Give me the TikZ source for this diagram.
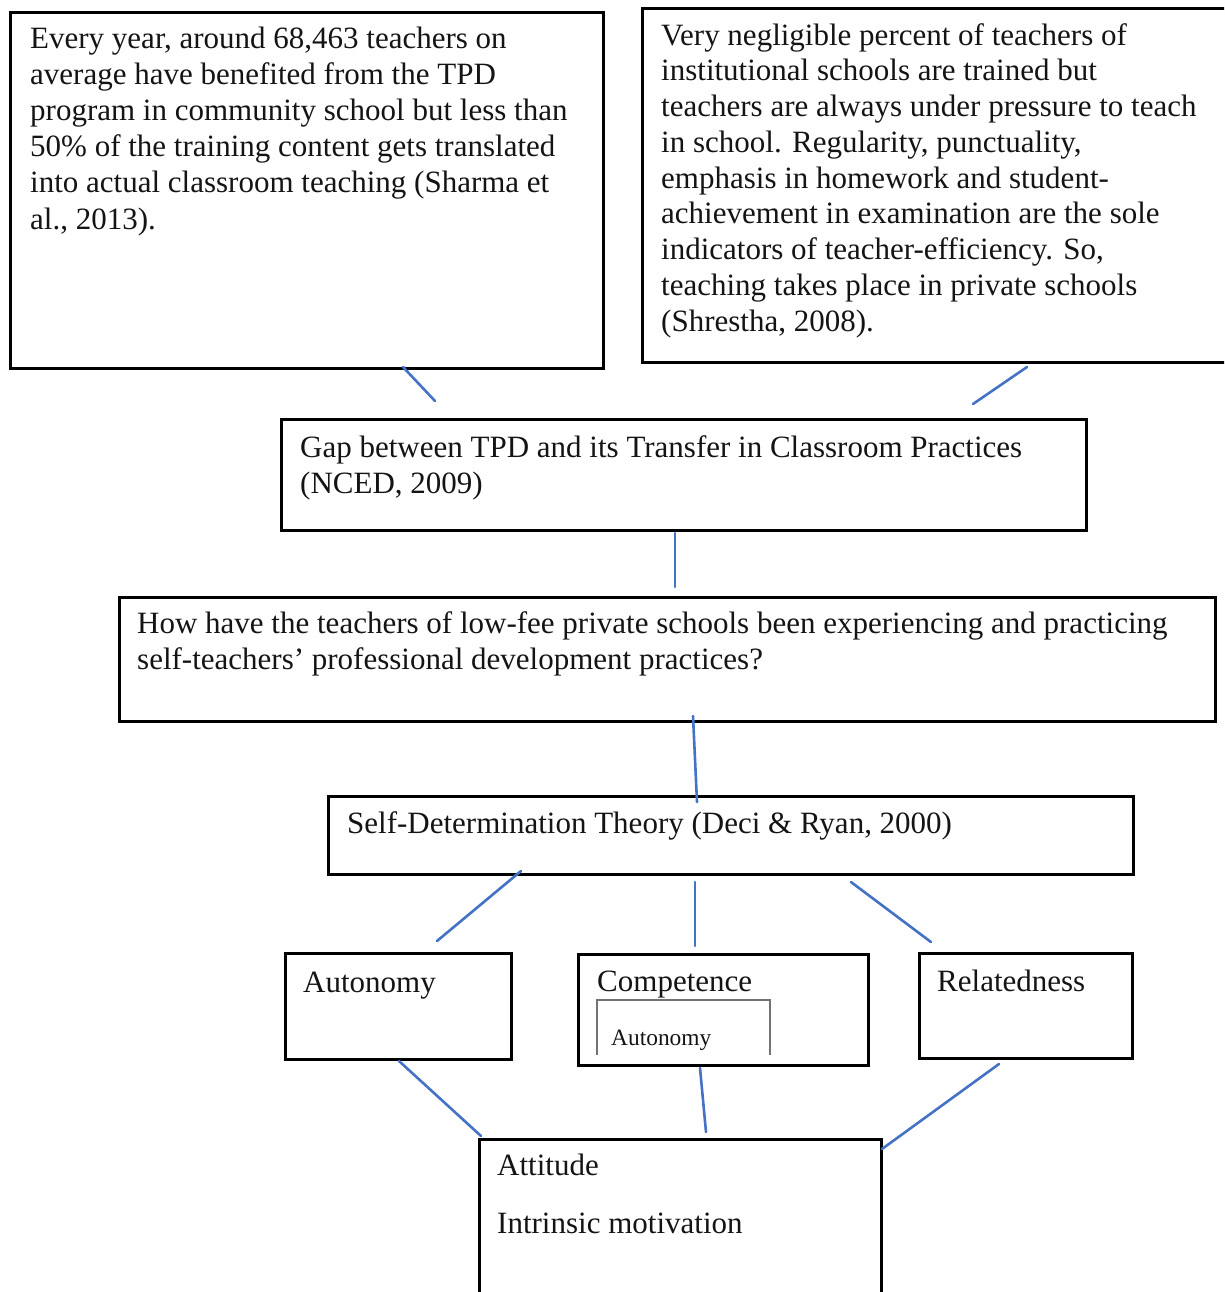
\documentclass[tikz,border=0pt]{standalone}
\usepackage{fontspec}
\setmainfont{Liberation Serif}
\usepackage{tikz}
\definecolor{linkblue}{RGB}{68,114,196}
\definecolor{txtcol}{gray}{0.08}
\tikzset{
  box/.style={draw=black,line width=2.8pt,rectangle,anchor=north west,inner sep=0pt},
  txt/.style={anchor=base west,align=left,inner sep=0pt,font=\fontsize{31}{36}\selectfont,text=txtcol},
  subtxt/.style={anchor=base west,inner sep=0pt,font=\fontsize{23.4}{28}\selectfont,text=txtcol},
  link/.style={linkblue,line width=2.6pt,line cap=round},
  subframe/.style={draw=black!55,line width=1.4pt},
}

\begin{document}
\begin{tikzpicture}[x=1pt,y=-1pt]
  \useasboundingbox (0,0) rectangle (1224,1292);
  \clip (0,0) rectangle (1224,1292);
  % the boxes
  \node[box,minimum width=593pt,minimum height=356pt] (cs) at (9,11) {};
  \node[box,minimum width=620pt,minimum height=354pt] (ps) at (641,7) {};
  \node[box,minimum width=805pt,minimum height=111pt] (gap) at (280,418) {};
  \node[box,minimum width=1096pt,minimum height=124pt] (rq) at (118,596) {};
  \node[box,minimum width=805pt,minimum height=78pt] (sdt) at (327,795) {};
  \node[box,minimum width=226pt,minimum height=106pt] (aut) at (284,952) {};
  \node[box,minimum width=290pt,minimum height=111pt] (comp) at (577,953) {};
  \node[box,minimum width=213pt,minimum height=105pt] (rel) at (918,952) {};
  \node[box,minimum width=402pt,minimum height=200pt] (att) at (478,1138) {};
  % the texts (placed by the baseline of their last line)
  \node[txt] (cs-txt) at (30,229) {Every year, around 68,463 teachers on\\
    average have benefited from the TPD\\
    program in community school but less than\\
    50\% of the training content gets translated\\
    into actual classroom teaching (Sharma et\\
    al., 2013).};
  \node[txt,font=\fontsize{31}{35.75}\selectfont] (ps-txt) at (661,331) {Very negligible percent of teachers of\\
    institutional schools are trained but\\
    teachers are always under pressure to teach\\
    in school. Regularity, punctuality,\\
    emphasis in homework and student-\\
    achievement in examination are the sole\\
    indicators of teacher-efficiency. So,\\
    teaching takes place in private schools\\
    (Shrestha, 2008).};
  \node[txt] (gap-txt) at (300,493) {Gap between TPD and its Transfer in Classroom Practices\\
    (NCED, 2009)};
  \node[txt] (rq-txt) at (137,669) {How have the teachers of low-fee private schools been experiencing and practicing\\
    self-teachers’ professional development practices?};
  \node[txt] (sdt-txt) at (347,833) {Self-Determination Theory (Deci \& Ryan, 2000)};
  \node[txt] (aut-txt) at (303,992) {Autonomy};
  \node[txt] (comp-txt) at (597,991) {Competence};
  \node[subtxt] (comp-sub) at (611,1045) {Autonomy};
  \draw[subframe] (597,1055) |- (770,1000) -- (770,1055);
  \node[txt] (rel-txt) at (937,991) {Relatedness};
  \node[txt] (att-txt) at (497,1233) {Attitude\\[22pt]
    Intrinsic motivation};
  % the connectors
  \coordinate (cs-gap1) at (403,367);
  \coordinate (cs-gap2) at (435,401);
  \coordinate (ps-gap1) at (1027,367);
  \coordinate (ps-gap2) at (973,404);
  \coordinate (gap-rq1) at (675,533);
  \coordinate (gap-rq2) at (675,587);
  \coordinate (rq-sdt1) at (693,716);
  \coordinate (rq-sdt2) at (697,802);
  \coordinate (sdt-aut1) at (521,871);
  \coordinate (sdt-aut2) at (437,941);
  \coordinate (sdt-comp1) at (695,882);
  \coordinate (sdt-comp2) at (695,946);
  \coordinate (sdt-rel1) at (851,882);
  \coordinate (sdt-rel2) at (931,942);
  \coordinate (aut-att1) at (399,1061);
  \coordinate (aut-att2) at (481,1136);
  \coordinate (comp-att1) at (700,1068);
  \coordinate (comp-att2) at (706,1132);
  \coordinate (rel-att1) at (999,1064);
  \coordinate (rel-att2) at (882,1149);
  \draw[link] (cs-gap1) -- (cs-gap2);
  \draw[link] (ps-gap1) -- (ps-gap2);
  \draw[link] (gap-rq1) -- (gap-rq2);
  \draw[link] (rq-sdt1) -- (rq-sdt2);
  \draw[link] (sdt-aut1) -- (sdt-aut2);
  \draw[link] (sdt-comp1) -- (sdt-comp2);
  \draw[link] (sdt-rel1) -- (sdt-rel2);
  \draw[link] (aut-att1) -- (aut-att2);
  \draw[link] (comp-att1) -- (comp-att2);
  \draw[link] (rel-att1) -- (rel-att2);
\end{tikzpicture}
\end{document}
